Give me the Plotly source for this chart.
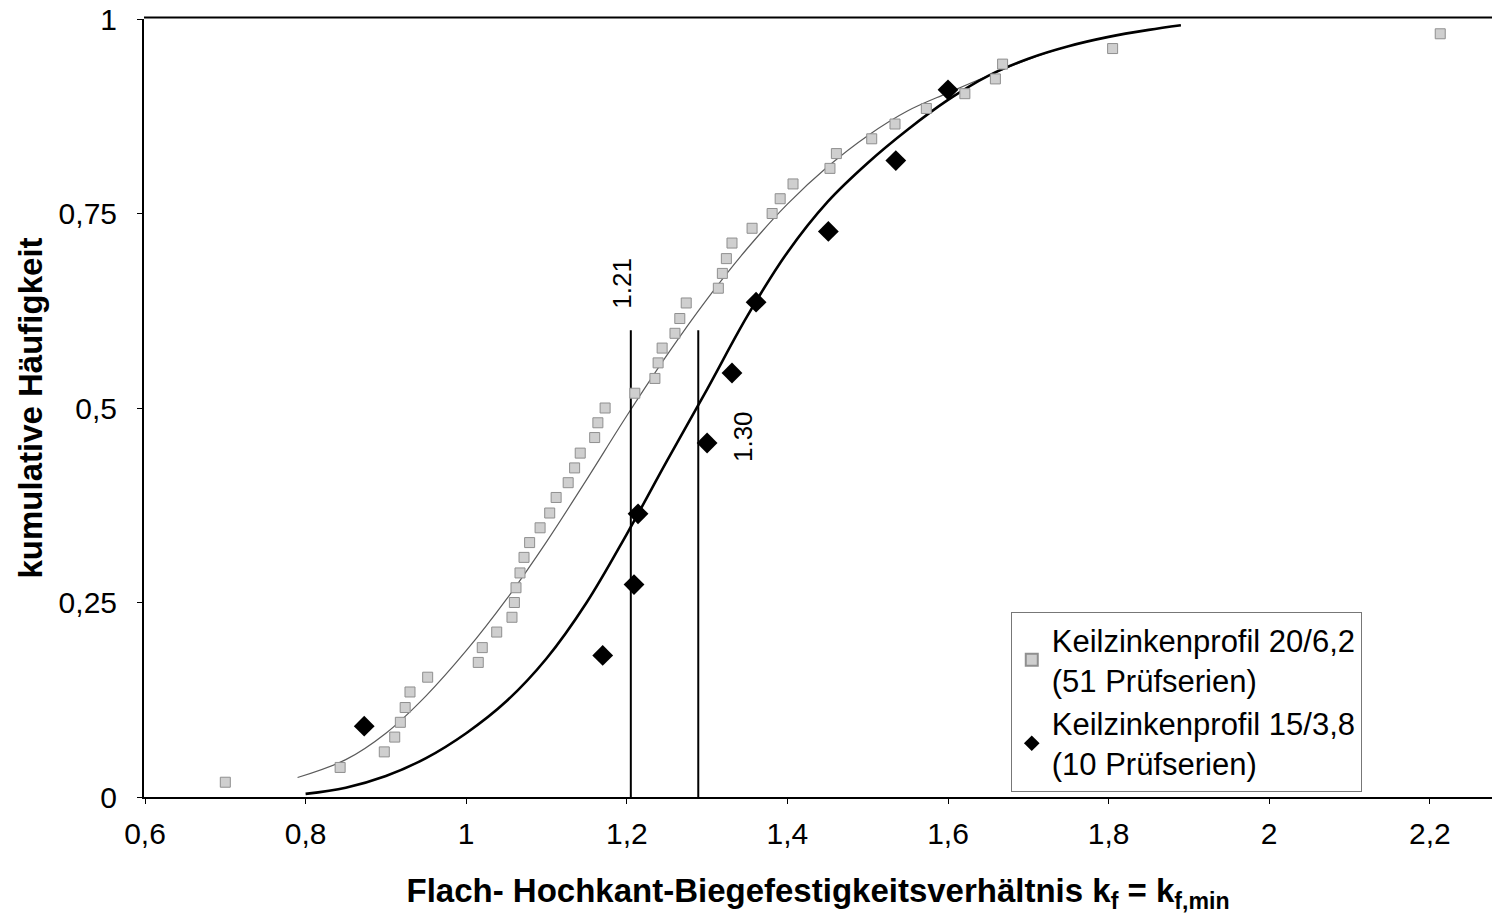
import plotly.graph_objects as go

# ---- data ----
# Keilzinkenprofil 20/6,2 (51 test series): sorted ratios, cumulative frequency i/52
gray_x = [0.700, 0.843, 0.898, 0.911, 0.918, 0.924, 0.930, 0.952, 1.015, 1.020,
          1.038, 1.057, 1.060, 1.062, 1.067, 1.072, 1.079, 1.092, 1.104, 1.112,
          1.127, 1.135, 1.142, 1.160, 1.164, 1.173, 1.210, 1.235, 1.239, 1.244,
          1.260, 1.266, 1.274, 1.314, 1.319, 1.324, 1.331, 1.356, 1.381, 1.391,
          1.407, 1.453, 1.461, 1.505, 1.534, 1.573, 1.621, 1.659, 1.668, 1.805,
          2.213]
gray_y = [0.019, 0.038, 0.058, 0.077, 0.096, 0.115, 0.135, 0.154, 0.173, 0.192,
          0.212, 0.231, 0.250, 0.269, 0.288, 0.308, 0.327, 0.346, 0.365, 0.385,
          0.404, 0.423, 0.442, 0.462, 0.481, 0.500, 0.519, 0.538, 0.558, 0.577,
          0.596, 0.615, 0.635, 0.654, 0.673, 0.692, 0.712, 0.731, 0.750, 0.769,
          0.788, 0.808, 0.827, 0.846, 0.865, 0.885, 0.904, 0.923, 0.942, 0.962,
          0.981]

# Keilzinkenprofil 15/3,8 (10 test series)
black_x = [0.873, 1.170, 1.209, 1.214, 1.300, 1.331, 1.361, 1.451, 1.535, 1.600]
black_y = [0.091, 0.182, 0.273, 0.364, 0.455, 0.545, 0.636, 0.727, 0.818, 0.909]

# fitted distribution curves
gfit_x = [0.79, 0.85, 0.90, 0.95, 1.00, 1.05, 1.10, 1.15, 1.20, 1.25, 1.30,
          1.35, 1.40, 1.45, 1.50, 1.55, 1.60, 1.65, 1.70, 1.75, 1.80, 1.85, 1.89]
gfit_y = [0.025, 0.048, 0.082, 0.130, 0.188, 0.254, 0.328, 0.408, 0.490, 0.568, 0.640,
          0.705, 0.762, 0.810, 0.850, 0.882, 0.905, 0.927, 0.948, 0.965, 0.977, 0.986, 0.992]

bfit_x = [0.80, 0.85, 0.90, 0.95, 1.00, 1.05, 1.10, 1.15, 1.20, 1.25, 1.30,
          1.35, 1.40, 1.45, 1.50, 1.55, 1.60, 1.65, 1.70, 1.75, 1.80, 1.85, 1.89]
bfit_y = [0.004, 0.012, 0.027, 0.050, 0.082, 0.123, 0.178, 0.250, 0.338, 0.432, 0.524,
          0.618, 0.700, 0.765, 0.815, 0.858, 0.896, 0.927, 0.949, 0.965, 0.977, 0.986, 0.992]

# median markers
med_vals = [1.205, 1.289]
med_top = 0.60
med_labels = ["1.21", "1.30"]
med_label_pos = [(1.193, 0.660), (1.345, 0.463)]

x_ticks = [0.6, 0.8, 1.0, 1.2, 1.4, 1.6, 1.8, 2.0, 2.2]
x_ticktext = ["0,6", "0,8", "1", "1,2", "1,4", "1,6", "1,8", "2", "2,2"]
y_ticks = [0, 0.25, 0.5, 0.75, 1]
y_ticktext = ["0", "0,25", "0,5", "0,75", "1"]

FONT = "Liberation Sans, Arial, sans-serif"

fig = go.Figure()

fig.add_trace(go.Scatter(x=gfit_x, y=gfit_y, mode="lines", line=dict(color="#5a5a5a", width=1.2),
                         showlegend=False, hoverinfo="skip", line_shape="spline"))
fig.add_trace(go.Scatter(x=bfit_x, y=bfit_y, mode="lines", line=dict(color="black", width=2.6),
                         showlegend=False, hoverinfo="skip", line_shape="spline"))

for v in med_vals:
    fig.add_trace(go.Scatter(x=[v, v], y=[0, med_top], mode="lines",
                             line=dict(color="black", width=2), showlegend=False, hoverinfo="skip"))

fig.add_trace(go.Scatter(x=gray_x, y=gray_y, mode="markers",
                         name="Keilzinkenprofil 20/6,2<br>(51 Prüfserien)",
                         marker=dict(symbol="square", size=10, color="#cfcfcf",
                                     line=dict(color="#8f8f8f", width=1))))
fig.add_trace(go.Scatter(x=black_x, y=black_y, mode="markers",
                         name="Keilzinkenprofil 15/3,8<br>(10 Prüfserien)",
                         marker=dict(symbol="diamond", size=16, color="black")))

for lab, (lx, ly) in zip(med_labels, med_label_pos):
    fig.add_annotation(x=lx, y=ly, text=lab, showarrow=False, textangle=-90,
                       font=dict(family=FONT, size=26, color="black"))

# top frame line
fig.add_shape(type="line", xref="paper", yref="paper", x0=0, x1=1, y0=1.002, y1=1.002,
              line=dict(color="black", width=2))

fig.update_layout(
    width=1492, height=916,
    margin=dict(l=144, r=0, t=19, b=119),
    paper_bgcolor="white", plot_bgcolor="white",
    font=dict(family=FONT, size=30, color="black"),
    xaxis=dict(range=[0.6 - 1 / 803, 0.6 + 1347 / 803], tickvals=x_ticks, ticktext=x_ticktext,
               showgrid=False, zeroline=False, showline=True, linecolor="black", linewidth=2,
               ticks="outside", ticklen=5, tickcolor="black", ticklabelstandoff=4,
               title=dict(text="<b>Flach- Hochkant-Biegefestigkeitsverhältnis k<sub>f</sub> = k<sub>f,min</sub></b>",
                          font=dict(size=33), standoff=30)),
    yaxis=dict(range=[0, 1.0], tickvals=y_ticks, ticktext=y_ticktext,
               showgrid=False, zeroline=False, showline=True, linecolor="black", linewidth=2,
               ticks="outside", ticklen=5, tickcolor="black", ticklabelstandoff=14,
               title=dict(text="<b>kumulative Häufigkeit</b>", font=dict(size=33), standoff=6)),
    legend=dict(x=0.643, y=0.238, xanchor="left", yanchor="top",
                bordercolor="#777777", borderwidth=1, bgcolor="white",
                font=dict(size=31), itemsizing="constant", tracegroupgap=6),
)

fig.write_html("out.html")
